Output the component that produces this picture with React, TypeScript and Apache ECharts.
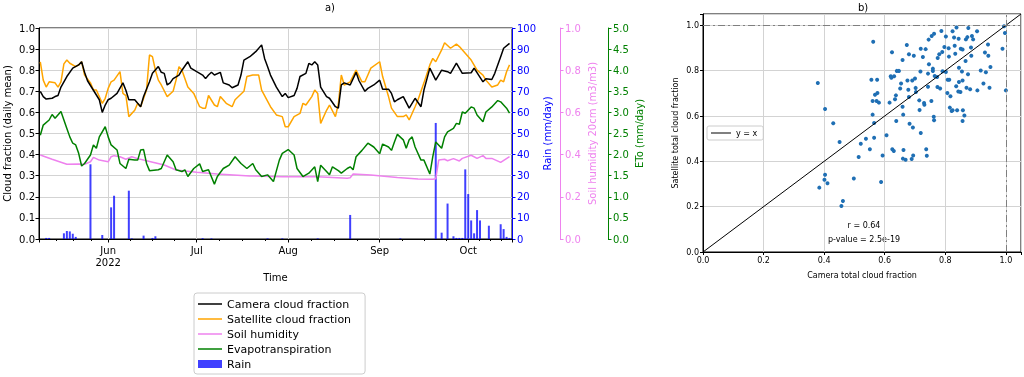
import React, { useEffect, useRef } from 'react';
import * as echarts from 'echarts';

// Day offsets are counted from 2022-05-09 (day 0)
const cameraCloud: [number, number][] = [
  [0, 0.70], [1, 0.675], [2, 0.663], [4, 0.667], [5, 0.675], [6, 0.68], [7, 0.72], [9, 0.77], [11, 0.81], [13, 0.825],
  [14, 0.84], [15, 0.79], [16, 0.75], [18, 0.705], [20, 0.66], [21, 0.60], [22, 0.635], [23, 0.66], [24, 0.667], [26, 0.69],
  [28, 0.74], [29, 0.705], [30, 0.66], [32, 0.66], [33, 0.643], [34, 0.627], [35, 0.675], [37, 0.745], [38, 0.785], [40, 0.817],
  [41, 0.79], [42, 0.785], [43, 0.73], [44, 0.74], [45, 0.76], [47, 0.777], [48, 0.80], [50, 0.84], [51, 0.81], [53, 0.793],
  [55, 0.777], [56, 0.76], [57, 0.777], [58, 0.79], [59, 0.777], [61, 0.79], [62, 0.74], [64, 0.73], [65, 0.717], [67, 0.73],
  [68, 0.777], [69, 0.848], [71, 0.864], [73, 0.888], [75, 0.92], [76, 0.856], [77, 0.817], [78, 0.777], [80, 0.72], [82, 0.675],
  [83, 0.69], [84, 0.67], [86, 0.68], [87, 0.714], [88, 0.77], [90, 0.785], [91, 0.832], [92, 0.825], [93, 0.84], [94, 0.825],
  [95, 0.72], [97, 0.675], [98, 0.667], [100, 0.627], [101, 0.62], [102, 0.73], [103, 0.74], [105, 0.73], [107, 0.79], [108, 0.75],
  [110, 0.70], [111, 0.714], [113, 0.73], [115, 0.753], [116, 0.71], [118, 0.71], [119, 0.69], [120, 0.65], [121, 0.66], [123, 0.675],
  [125, 0.62], [127, 0.667], [129, 0.627], [130, 0.706], [132, 0.81], [134, 0.753], [136, 0.80], [138, 0.793], [139, 0.785], [141, 0.833],
  [143, 0.785], [146, 0.788], [147, 0.81], [150, 0.745], [151, 0.76], [153, 0.756], [154, 0.785], [156, 0.864], [157, 0.904], [159, 0.927],
];

const satelliteCloud: [number, number][] = [
  [0, 0.84], [1, 0.753], [2, 0.72], [3, 0.745], [5, 0.74], [6, 0.72], [7, 0.745], [8, 0.83], [9, 0.848], [10, 0.833],
  [12, 0.817], [13, 0.825], [14, 0.84], [15, 0.777], [17, 0.74], [18, 0.706], [19, 0.706], [21, 0.643], [22, 0.667], [23, 0.714],
  [24, 0.745], [25, 0.753], [27, 0.793], [28, 0.69], [29, 0.68], [30, 0.58], [32, 0.61], [33, 0.643], [34, 0.627], [36, 0.706],
  [37, 0.872], [38, 0.864], [39, 0.80], [40, 0.753], [41, 0.73], [43, 0.675], [45, 0.70], [46, 0.753], [47, 0.817], [48, 0.80],
  [50, 0.72], [52, 0.69], [54, 0.627], [55, 0.62], [56, 0.62], [57, 0.68], [59, 0.635], [60, 0.627], [61, 0.675], [63, 0.643],
  [65, 0.627], [66, 0.66], [69, 0.70], [70, 0.77], [72, 0.777], [74, 0.777], [75, 0.706], [78, 0.627], [80, 0.588], [82, 0.58],
  [83, 0.532], [84, 0.532], [86, 0.58], [88, 0.595], [89, 0.643], [90, 0.635], [92, 0.675], [93, 0.706], [94, 0.69], [95, 0.548],
  [97, 0.61], [98, 0.635], [100, 0.58], [101, 0.64], [102, 0.777], [103, 0.73], [105, 0.745], [107, 0.80], [109, 0.745], [110, 0.745],
  [111, 0.777], [112, 0.81], [115, 0.84], [116, 0.77], [118, 0.675], [119, 0.62], [121, 0.58], [123, 0.58], [124, 0.588], [125, 0.564],
  [127, 0.627], [128, 0.66], [130, 0.74], [132, 0.825], [133, 0.856], [134, 0.84], [136, 0.896], [137, 0.93], [139, 0.904], [141, 0.924],
  [142, 0.912], [144, 0.88], [146, 0.848], [148, 0.80], [150, 0.777], [151, 0.753], [153, 0.72], [155, 0.73], [156, 0.753], [157, 0.745],
  [158, 0.793], [159, 0.825],
];

const soilHumidity: [number, number][] = [
  [0, 0.398], [4, 0.378], [9, 0.354], [13, 0.355], [15, 0.354], [17, 0.366], [18, 0.387], [20, 0.374], [23, 0.366], [24, 0.39],
  [25, 0.395], [27, 0.39], [29, 0.378], [31, 0.39], [33, 0.381], [36, 0.371], [42, 0.351], [46, 0.327], [53, 0.316], [60, 0.308],
  [71, 0.299], [82, 0.295], [94, 0.295], [104, 0.288], [105, 0.29], [106, 0.308], [112, 0.303], [121, 0.292], [128, 0.284], [133, 0.283],
  [134, 0.285], [135, 0.374], [137, 0.378], [138, 0.371], [140, 0.381], [142, 0.37], [143, 0.382], [146, 0.397], [148, 0.382], [150, 0.395],
  [151, 0.382], [153, 0.382], [156, 0.363], [159, 0.39],
];

const evapotranspiration: [number, number][] = [
  [0, 2.46], [1, 2.70], [3, 2.82], [4, 2.95], [5, 2.86], [7, 3.02], [9, 2.62], [10, 2.42], [11, 2.27], [12, 2.23],
  [13, 2.03], [14, 1.73], [15, 1.79], [17, 1.99], [18, 2.23], [19, 2.15], [20, 2.42], [22, 2.66], [23, 2.42], [24, 2.23],
  [26, 2.11], [27, 1.79], [29, 1.67], [30, 1.89], [32, 1.87], [33, 1.87], [34, 2.11], [35, 2.12], [36, 1.79], [37, 1.62],
  [40, 1.64], [41, 1.67], [43, 1.99], [45, 1.83], [46, 1.64], [48, 1.60], [49, 1.64], [50, 1.48], [52, 1.67], [54, 1.78],
  [55, 1.60], [57, 1.64], [59, 1.30], [60, 1.48], [62, 1.67], [64, 1.75], [66, 1.95], [68, 1.79], [70, 1.67], [72, 1.79],
  [73, 1.64], [75, 1.48], [77, 1.52], [79, 1.36], [81, 1.87], [82, 2.03], [84, 2.12], [86, 1.99], [87, 1.67], [89, 1.48],
  [91, 1.56], [93, 1.71], [94, 1.36], [95, 1.75], [97, 1.60], [98, 1.52], [99, 1.71], [101, 1.62], [102, 1.56], [104, 1.67],
  [105, 1.71], [106, 1.64], [107, 1.95], [109, 2.10], [111, 2.27], [113, 2.18], [115, 2.02], [116, 2.25], [118, 2.18], [119, 2.10],
  [120, 2.30], [121, 2.48], [123, 2.35], [124, 2.15], [125, 2.35], [126, 2.42], [127, 2.18], [129, 1.87], [130, 1.87], [132, 1.54],
  [133, 1.95], [134, 2.30], [136, 2.15], [137, 2.42], [138, 2.54], [140, 2.62], [141, 2.74], [142, 2.72], [143, 3.01], [144, 2.98],
  [146, 3.13], [147, 3.10], [148, 2.94], [150, 2.78], [151, 3.01], [153, 3.13], [155, 3.28], [156, 3.25], [158, 3.10], [159, 2.98],
];

const rain: [number, number][] = [
  [2, 0.5], [3, 0.5], [8, 2.7], [9, 3.8], [10, 3.6], [11, 2.5], [12, 1.0], [17, 35.4], [21, 1.9], [24, 15.0],
  [25, 20.5], [30, 22.9], [31, 0.3], [35, 1.6], [38, 0.5], [39, 1.3], [55, 0.4], [58, 0.3], [77, 0.3], [82, 0.3],
  [94, 0.3], [105, 11.4], [122, 0.3], [134, 55.0], [136, 3.0], [138, 16.8], [140, 1.3], [141, 0.5], [142, 0.5], [143, 0.5],
  [144, 33.0], [145, 21.3], [146, 8.8], [147, 2.7], [148, 13.7], [149, 8.8], [152, 6.3], [156, 7.0], [157, 4.7], [158, 1.0],
  [159, 0.5],
];

// Scatter: [camera total cloud fraction, satellite total cloud fraction]
const scatterPoints: [number, number][] = [
  [0.379, 0.746], [0.403, 0.631], [0.430, 0.568], [0.451, 0.485], [0.384, 0.284], [0.403, 0.341], [0.401, 0.319], [0.411, 0.303],
  [0.462, 0.225], [0.457, 0.203], [0.498, 0.324], [0.514, 0.419], [0.521, 0.478], [0.538, 0.500], [0.551, 0.453], [0.556, 0.760],
  [0.560, 0.666], [0.560, 0.606], [0.562, 0.928], [0.565, 0.569], [0.568, 0.694], [0.573, 0.666], [0.575, 0.760], [0.576, 0.701],
  [0.565, 0.504], [0.581, 0.659], [0.593, 0.426], [0.588, 0.309], [0.606, 0.515], [0.616, 0.659], [0.620, 0.775], [0.622, 0.769],
  [0.624, 0.881], [0.625, 0.453], [0.630, 0.446], [0.631, 0.775], [0.634, 0.674], [0.637, 0.691], [0.638, 0.578], [0.640, 0.799],
  [0.647, 0.799], [0.660, 0.412], [0.659, 0.847], [0.673, 0.913], [0.680, 0.872], [0.696, 0.866], [0.651, 0.721], [0.654, 0.743],
  [0.659, 0.641], [0.661, 0.606], [0.662, 0.450], [0.669, 0.407], [0.675, 0.757], [0.678, 0.716], [0.680, 0.684], [0.682, 0.566],
  [0.689, 0.410], [0.691, 0.757], [0.693, 0.549], [0.694, 0.426], [0.700, 0.765], [0.702, 0.724], [0.703, 0.706], [0.719, 0.897],
  [0.735, 0.895], [0.745, 0.937], [0.755, 0.953], [0.763, 0.963], [0.726, 0.860], [0.714, 0.669], [0.715, 0.626], [0.718, 0.796],
  [0.719, 0.525], [0.730, 0.657], [0.731, 0.650], [0.737, 0.453], [0.739, 0.425], [0.746, 0.828], [0.743, 0.787], [0.743, 0.729],
  [0.754, 0.666], [0.759, 0.809], [0.759, 0.799], [0.762, 0.597], [0.763, 0.581], [0.765, 0.776], [0.775, 0.856], [0.773, 0.772],
  [0.774, 0.728], [0.780, 0.872], [0.783, 0.721], [0.790, 0.882], [0.797, 0.904], [0.791, 0.797], [0.802, 0.794], [0.807, 0.701],
  [0.808, 0.760], [0.812, 0.862], [0.811, 0.899], [0.813, 0.760], [0.815, 0.637], [0.817, 0.687], [0.821, 0.622], [0.824, 0.974],
  [0.824, 0.625], [0.833, 0.875], [0.837, 0.990], [0.836, 0.731], [0.839, 0.625], [0.844, 0.941], [0.845, 0.813], [0.850, 0.706],
  [0.851, 0.897], [0.857, 0.893], [0.855, 0.796], [0.857, 0.757], [0.843, 0.708], [0.845, 0.750], [0.858, 0.625], [0.863, 0.602],
  [0.857, 0.578], [0.867, 0.843], [0.868, 0.938], [0.873, 0.948], [0.876, 0.988], [0.870, 0.725], [0.875, 0.784], [0.882, 0.718],
  [0.885, 0.902], [0.886, 0.866], [0.888, 0.953], [0.892, 0.938], [0.905, 0.974], [0.906, 0.713], [0.917, 0.801], [0.926, 0.743],
  [0.931, 0.880], [0.934, 0.793], [0.941, 0.915], [0.942, 0.866], [0.946, 0.725], [0.949, 0.816], [0.989, 0.897], [0.997, 0.966],
  [0.994, 0.996], [1.000, 0.713], [0.787, 0.975], [0.802, 0.951], [0.829, 0.946], [0.831, 0.910],
];

const identityLine: [number, number][] = [[0, 0], [1.05, 1.05]];
const monthNames = ['Jan', 'Feb', 'Mar', 'Apr', 'May', 'Jun', 'Jul', 'Aug', 'Sep', 'Oct', 'Nov', 'Dec'];
const yearLabel = '2022';
const correlationText = 'r = 0.64';
const pValueText = 'p-value = 2.5e-19';

const FONT = 'DejaVu Sans';
const LINE_ICON = 'path://M0,0H24V1.5H0Z';

export default function App() {
  const ref = useRef<HTMLDivElement>(null);
  useEffect(() => {
    const chart = echarts.init(ref.current!, null, { renderer: 'svg' });
    const DAY = 86400000;
    const t0 = new Date(2022, 4, 9).getTime();
    const toT = (d: number) => t0 + d * DAY;
    const conv = (arr: [number, number][]) => arr.map(([d, v]) => [toT(d), v]);
    const black = '#000';
    const blue = '#0000ff';
    const violet = '#ee82ee';
    const green = '#008000';
    const gridColor = '#d3d3d3';
    const fmt1 = (v: number) => v.toFixed(1);
    const fmtScatter = (v: number) => (Math.abs(v * 5 - Math.round(v * 5)) < 1e-6 ? v.toFixed(1) : '');

    const option: any = {
      animation: false,
      textStyle: { fontFamily: FONT },
      grid: [
        { left: 39, top: 28, width: 473, height: 211, show: true, borderColor: black, borderWidth: 1 },
        { left: 703, top: 14, width: 320, height: 238, show: true, borderColor: black, borderWidth: 1 },
      ],
      legend: [
        {
          data: [
            { name: 'Camera cloud fraction', icon: LINE_ICON },
            { name: 'Satellite cloud fraction', icon: LINE_ICON },
            { name: 'Soil humidity', icon: LINE_ICON },
            { name: 'Evapotranspiration', icon: LINE_ICON },
            { name: 'Rain', icon: 'rect' },
          ],
          orient: 'vertical',
          left: 194,
          top: 293,
          itemWidth: 24,
          itemHeight: 8,
          itemGap: 3,
          padding: [5, 14, 4, 4],
          borderColor: '#cccccc',
          borderWidth: 1,
          borderRadius: 3,
          textStyle: { fontSize: 11, color: black, fontFamily: FONT, lineHeight: 12 },
        },
        {
          data: [{ name: 'y = x', icon: 'path://M0,0H20V1H0Z' }],
          orient: 'vertical',
          left: 707,
          top: 126,
          itemWidth: 20,
          itemHeight: 6,
          padding: [3, 6, 3, 4],
          borderColor: '#cccccc',
          borderWidth: 1,
          borderRadius: 2,
          textStyle: { fontSize: 8, color: black, fontFamily: FONT },
        },
      ],
      xAxis: [
        {
          type: 'time',
          gridIndex: 0,
          min: toT(-0.1),
          max: toT(159.5),
          splitNumber: 5,
          minInterval: 28 * DAY,
          axisLine: { lineStyle: { color: black } },
          axisTick: { length: 3.5, lineStyle: { color: black } },
          minorTick: { show: true, splitNumber: 4, length: 2, lineStyle: { color: black } },
          splitLine: { show: true, lineStyle: { color: gridColor } },
          axisLabel: {
            color: black,
            fontSize: 10,
            lineHeight: 12,
            margin: 5,
            formatter: (val: number) => {
              const d = new Date(val);
              const m = monthNames[d.getMonth()];
              return d.getMonth() === 5 ? m + '\n' + yearLabel : m;
            },
          },
          name: 'Time',
          nameLocation: 'middle',
          nameGap: 31,
          nameTextStyle: { fontSize: 10, color: black },
        },
        {
          type: 'value',
          gridIndex: 1,
          min: 0,
          max: 1.05,
          interval: 0.2,
          axisLine: { lineStyle: { color: black } },
          axisTick: { length: 3, lineStyle: { color: black } },
          splitLine: { show: true, lineStyle: { color: gridColor } },
          axisLabel: { color: black, fontSize: 8, margin: 4, formatter: fmtScatter },
          name: 'Camera total cloud fraction',
          nameLocation: 'middle',
          nameGap: 19,
          nameTextStyle: { fontSize: 8, color: black },
        },
      ],
      yAxis: [
        {
          type: 'value',
          gridIndex: 0,
          position: 'left',
          min: 0,
          max: 1,
          interval: 0.1,
          axisLine: { show: true, lineStyle: { color: black } },
          axisTick: { show: true, length: 3.5, lineStyle: { color: black } },
          splitLine: { show: true, lineStyle: { color: gridColor } },
          axisLabel: { color: black, fontSize: 10, margin: 4, formatter: fmt1 },
          name: 'Cloud fraction (daily mean)',
          nameLocation: 'middle',
          nameRotate: 90,
          nameGap: 27,
          nameTextStyle: { fontSize: 10, color: black },
        },
        {
          type: 'value',
          gridIndex: 0,
          position: 'right',
          offset: 0,
          min: 0,
          max: 100,
          interval: 10,
          axisLine: { show: true, lineStyle: { color: blue } },
          axisTick: { show: true, length: 3.5, lineStyle: { color: blue } },
          splitLine: { show: false },
          axisLabel: { color: blue, fontSize: 10, margin: 5 },
          name: 'Rain (mm/day)',
          nameLocation: 'middle',
          nameRotate: 90,
          nameGap: 30,
          nameTextStyle: { fontSize: 10, color: blue },
        },
        {
          type: 'value',
          gridIndex: 0,
          position: 'right',
          offset: 48,
          min: 0,
          max: 1,
          interval: 0.2,
          axisLine: { show: true, lineStyle: { color: violet } },
          axisTick: { show: true, length: 3.5, lineStyle: { color: violet } },
          splitLine: { show: false },
          axisLabel: { color: violet, fontSize: 10, margin: 5, formatter: fmt1 },
          name: 'Soil humidity 20cm (m3/m3)',
          nameLocation: 'middle',
          nameRotate: 90,
          nameGap: 27,
          nameTextStyle: { fontSize: 10, color: violet },
        },
        {
          type: 'value',
          gridIndex: 0,
          position: 'right',
          offset: 96,
          min: 0,
          max: 5,
          interval: 0.5,
          axisLine: { show: true, lineStyle: { color: green } },
          axisTick: { show: true, length: 3.5, lineStyle: { color: green } },
          splitLine: { show: false },
          axisLabel: { color: green, fontSize: 10, margin: 5, formatter: fmt1 },
          name: 'ETo (mm/day)',
          nameLocation: 'middle',
          nameRotate: 90,
          nameGap: 26,
          nameTextStyle: { fontSize: 10, color: green },
        },
        {
          type: 'value',
          gridIndex: 1,
          min: 0,
          max: 1.05,
          interval: 0.2,
          axisLine: { show: true, lineStyle: { color: black } },
          axisTick: { show: true, length: 3, lineStyle: { color: black } },
          splitLine: { show: true, lineStyle: { color: gridColor } },
          axisLabel: { color: black, fontSize: 8, margin: 4, formatter: fmtScatter },
          name: 'Satellite total cloud fraction',
          nameLocation: 'middle',
          nameRotate: 90,
          nameGap: 24,
          nameTextStyle: { fontSize: 8, color: black },
        },
      ],
      series: [
        {
          name: 'Rain',
          type: 'bar',
          xAxisIndex: 0,
          yAxisIndex: 1,
          barWidth: 2,
          itemStyle: { color: 'rgba(0,0,255,0.75)' },
          data: conv(rain),
          z: 1,
        },
        {
          name: 'Camera cloud fraction',
          type: 'line',
          xAxisIndex: 0,
          yAxisIndex: 0,
          symbol: 'none',
          lineStyle: { color: black, width: 1.5 },
          itemStyle: { color: black },
          data: conv(cameraCloud),
          z: 5,
        },
        {
          name: 'Satellite cloud fraction',
          type: 'line',
          xAxisIndex: 0,
          yAxisIndex: 0,
          symbol: 'none',
          lineStyle: { color: '#ffa500', width: 1.5 },
          itemStyle: { color: '#ffa500' },
          data: conv(satelliteCloud),
          z: 4,
        },
        {
          name: 'Soil humidity',
          type: 'line',
          xAxisIndex: 0,
          yAxisIndex: 2,
          symbol: 'none',
          lineStyle: { color: violet, width: 1.5 },
          itemStyle: { color: violet },
          data: conv(soilHumidity),
          z: 3,
        },
        {
          name: 'Evapotranspiration',
          type: 'line',
          xAxisIndex: 0,
          yAxisIndex: 3,
          symbol: 'none',
          lineStyle: { color: green, width: 1.5 },
          itemStyle: { color: green },
          data: conv(evapotranspiration),
          z: 3,
        },
        {
          name: 'scatter',
          type: 'scatter',
          xAxisIndex: 1,
          yAxisIndex: 4,
          symbolSize: 4,
          itemStyle: { color: '#1f6fb4', opacity: 1 },
          data: scatterPoints,
          markLine: {
            silent: true,
            symbol: ['none', 'none'],
            label: { show: false },
            lineStyle: { color: '#7f7f7f', type: [7, 3, 2, 3], width: 1 },
            data: [{ yAxis: 1 }, { xAxis: 1 }],
          },
          z: 3,
        },
        {
          name: 'y = x',
          type: 'line',
          xAxisIndex: 1,
          yAxisIndex: 4,
          symbol: 'none',
          lineStyle: { color: black, width: 1 },
          itemStyle: { color: black },
          data: identityLine,
          z: 4,
        },
      ],
      graphic: [
        { type: 'text', x: 330, y: 7, style: { text: 'a)', fontSize: 10, fill: black, fontFamily: FONT, align: 'center', verticalAlign: 'middle' } },
        { type: 'text', x: 863, y: 7, style: { text: 'b)', fontSize: 10, fill: black, fontFamily: FONT, align: 'center', verticalAlign: 'middle' } },
        { type: 'text', x: 864, y: 225, style: { text: correlationText, fontSize: 8, fill: black, fontFamily: FONT, align: 'center', verticalAlign: 'middle' } },
        { type: 'text', x: 864, y: 239, style: { text: pValueText, fontSize: 8, fill: black, fontFamily: FONT, align: 'center', verticalAlign: 'middle' } },
      ],
    };
    chart.setOption(option);
    return () => chart.dispose();
  }, []);
  return <div ref={ref} style={{ position: 'fixed', left: 0, top: 0, width: 1024, height: 377 }} />;
}
